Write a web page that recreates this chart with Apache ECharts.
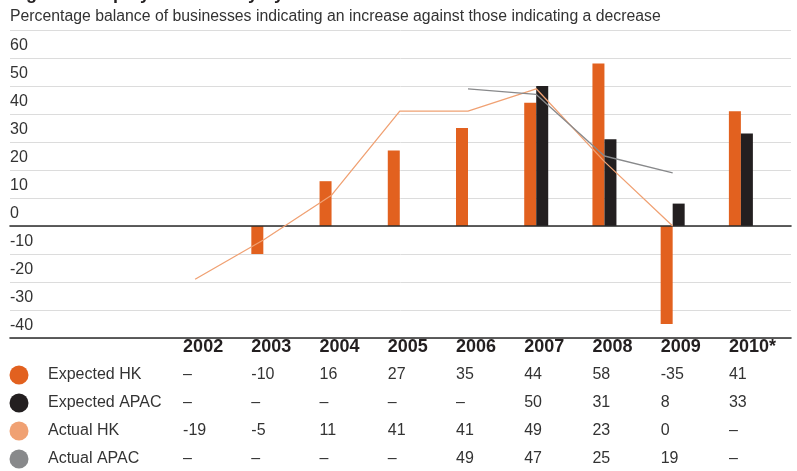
<!DOCTYPE html>
<html>
<head>
<meta charset="utf-8">
<script src="https://cdn.jsdelivr.net/npm/echarts@6/dist/echarts.min.js"></script>
<style>
html,body{margin:0;padding:0;background:#fff;}
#c{width:797px;height:471px;}
</style>
</head>
<body>
<div id="c"></div>
<script>
var years = ['2002','2003','2004','2005','2006','2007','2008','2009','2010*'];
var expectedHK   = [null, -10, 16, 27, 35, 44, 58, -35, 41];
var expectedAPAC = [null, null, null, null, null, 50, 31, 8, 33];
var actualHK     = [-19, -5, 11, 41, 41, 49, 23, 0, null];
var actualAPAC   = [null, null, null, null, 49, 47, 25, 19, null];
var yTicks = [-40, -30, -20, -10, 0, 10, 20, 30, 40, 50, 60];
var seriesNames = ['Expected HK', 'Expected APAC', 'Actual HK', 'Actual APAC'];
var seriesData = [expectedHK, expectedAPAC, actualHK, actualAPAC];
var colors = ['#E2611F', '#231F20', '#F0A173', '#88898B'];

var FONT = 'Liberation Sans, Arial, sans-serif';
var chart = echarts.init(document.getElementById('c'), null, {renderer: 'canvas'});

var option = {
  animation: false,
  backgroundColor: '#ffffff',
  textStyle: {fontFamily: FONT},
  grid: [
    {left: 10, right: 6, top: 30, bottom: 133},
    {left: 161, right: 22, top: 30, bottom: 133}
  ],
  xAxis: [
    {gridIndex: 0, type: 'value', min: 0, max: 1, show: true,
     axisLine: {show: true, onZero: true, lineStyle: {color: '#2b2b2b', width: 1.6}},
     axisTick: {show: false}, axisLabel: {show: false}, splitLine: {show: false}, z: 5},
    {gridIndex: 1, type: 'category', data: years, show: false},
    {gridIndex: 0, type: 'value', min: 0, max: 1, position: 'bottom', show: true,
     axisLine: {show: true, onZero: false, lineStyle: {color: '#2b2b2b', width: 1.6}},
     axisTick: {show: false}, axisLabel: {show: false}, splitLine: {show: false}, z: 5}
  ],
  yAxis: [
    {gridIndex: 0, type: 'value', min: -40, max: 70, interval: 10,
     axisLine: {show: false}, axisTick: {show: false},
     axisLabel: {inside: true, margin: 0, align: 'left', verticalAlign: 'bottom',
       padding: [0, 0, 4, 0], fontSize: 16, color: '#333', fontFamily: FONT,
       formatter: function (v) { return yTicks.indexOf(v) >= 0 ? String(v) : ''; }},
     splitLine: {show: true, lineStyle: {color: '#dcdcdc', width: 1}}},
    {gridIndex: 1, type: 'value', min: -40, max: 70, interval: 10, show: false,
     splitLine: {show: false}}
  ],
  series: [
    {name: seriesNames[0], type: 'bar', xAxisIndex: 1, yAxisIndex: 1, data: expectedHK,
     barWidth: 12, barGap: '0%', itemStyle: {color: colors[0]}, z: 3},
    {name: seriesNames[1], type: 'bar', xAxisIndex: 1, yAxisIndex: 1, data: expectedAPAC,
     barWidth: 12, barGap: '0%', itemStyle: {color: colors[1]}, z: 3},
    {name: seriesNames[2], type: 'line', xAxisIndex: 1, yAxisIndex: 1, data: actualHK,
     symbol: 'none', connectNulls: false, lineStyle: {color: colors[2], width: 1.3}, z: 6},
    {name: seriesNames[3], type: 'line', xAxisIndex: 1, yAxisIndex: 1, data: actualAPAC,
     symbol: 'none', connectNulls: false, lineStyle: {color: colors[3], width: 1.3}, z: 6}
  ]
};
chart.setOption(option);

// Build title, subtitle and data table
var g = [];
g.push({type: 'text', left: 10, top: -15, style: {text: 'Figure 2 Employment history by sector',
  font: 'bold 18px ' + FONT, fill: '#231F20'}});
g.push({type: 'text', x: 10, y: 17, style: {text: 'Percentage balance of businesses indicating an increase against those indicating a decrease',
  font: '15.8px ' + FONT, fill: '#333', verticalAlign: 'middle'}});

var headerY = 347, rowY0 = 375, rowStep = 28;
for (var i = 0; i < years.length; i++) {
  var cx = chart.convertToPixel({xAxisIndex: 1}, years[i]);
  if (Array.isArray(cx)) { cx = cx[0]; }
  var px = cx - 12;
  g.push({type: 'text', x: px, y: headerY, style: {text: years[i], font: 'bold 18px ' + FONT,
    fill: '#231F20', verticalAlign: 'middle', align: 'left'}});
  for (var r = 0; r < seriesData.length; r++) {
    var v = seriesData[r][i];
    g.push({type: 'text', x: px, y: rowY0 + r * rowStep, style: {
      text: v === null ? '\u2013' : String(v), font: '16px ' + FONT, fill: '#333',
      verticalAlign: 'middle', align: 'left'}});
  }
}
for (var r2 = 0; r2 < seriesNames.length; r2++) {
  var yy = rowY0 + r2 * rowStep;
  g.push({type: 'circle', shape: {cx: 19, cy: yy, r: 9.5}, style: {fill: colors[r2]}});
  g.push({type: 'text', x: 48, y: yy, style: {text: seriesNames[r2], font: '16px ' + FONT,
    fill: '#333', verticalAlign: 'middle', align: 'left'}});
}
chart.setOption({graphic: g});
</script>
</body>
</html>
